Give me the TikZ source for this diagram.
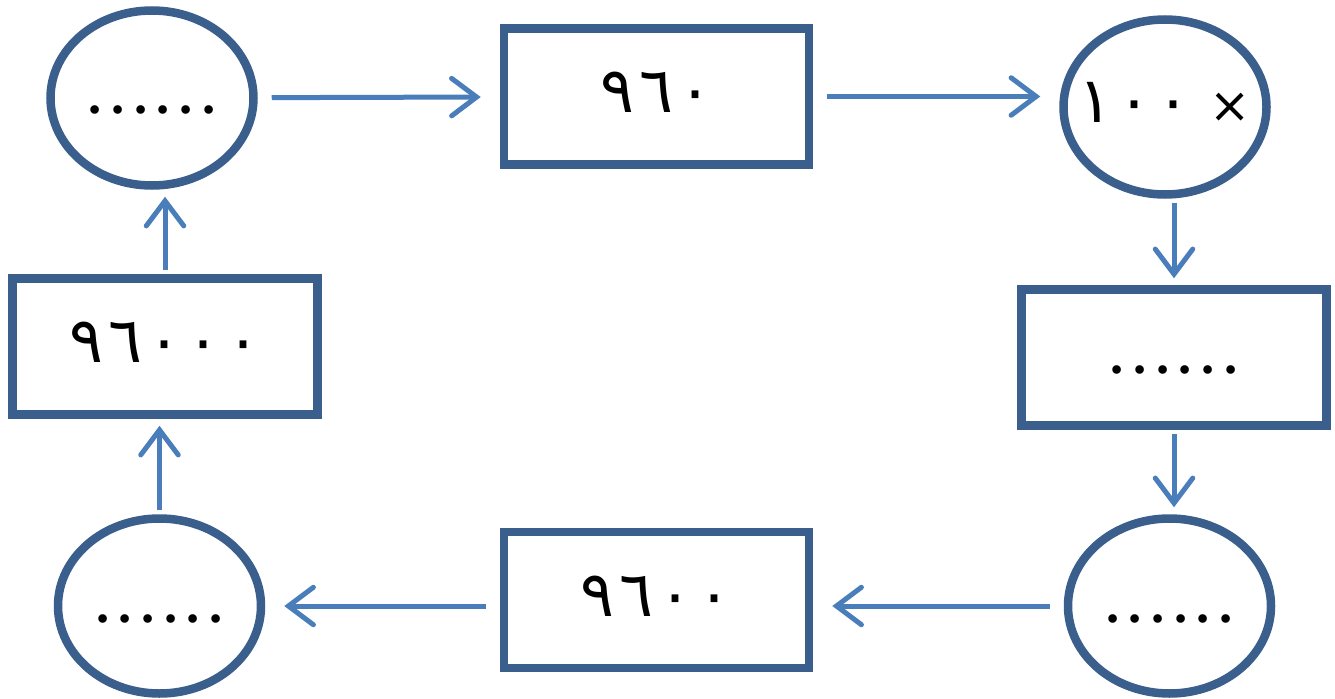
\documentclass[tikz,border=0pt]{standalone}
\usepackage{fontspec}
\TeXXeTstate=1
\newfontfamily\numfont[Script=Arabic,LetterSpace=8]{DejaVu Sans}
\newfontfamily\dotfont[LetterSpace=18]{Liberation Serif}
\usetikzlibrary{arrows.meta,shapes.geometric}
\definecolor{boxblue}{HTML}{3B5F8C}
\definecolor{arrowblue}{HTML}{4A7EBB}

\begin{document}
\begin{tikzpicture}[
    oval/.style={ellipse, draw=boxblue, line width=0.17cm, minimum width=4.06cm, minimum height=3.5cm, inner sep=0pt, inner xsep=-0.6cm},
    card/.style={rectangle, draw=boxblue, line width=0.17cm, minimum width=6.1cm, minimum height=2.72cm, inner sep=0pt},
    flow/.style={draw=arrowblue, line width=0.1cm, -{Straight Barb[length=0.5cm, width=0.75cm, line cap=round]}, shorten <=0.08cm, shorten >=0.14cm},
    wide/.style={shorten <=0.28cm, shorten >=0.38cm},
    every node/.style={text height=0.64cm, text depth=0pt}
  ]
  \useasboundingbox (0,0) rectangle (26.7,13.96);
  \draw
    (3.04,12.0) node[oval] (0){\dotfont\fontsize{30}{34}\selectfont\bfseries ......}
    (13.13,12.03) node[card] (1){\numfont\fontsize{36}{42}\selectfont ٩٦٠}
    (23.3,11.82) node[oval] (2){\numfont\fontsize{36}{42}\selectfont\beginR {\fontsize{28}{32}\selectfont ×}\hspace{0.3em}\beginL ١٠٠\endL\endR}
    (23.48,6.81) node[card] (3){\dotfont\fontsize{30}{34}\selectfont\bfseries ......}
    (23.39,1.84) node[oval] (4){\dotfont\fontsize{30}{34}\selectfont\bfseries ......}
    (13.13,1.96) node[card] (5){\numfont\fontsize{36}{42}\selectfont ٩٦٠٠}
    (3.19,1.84) node[oval] (6){\dotfont\fontsize{30}{34}\selectfont\bfseries ......}
    (3.3,7.03) node[card] (7){\numfont\fontsize{36}{42}\selectfont ٩٦٠٠٠};
  \begin{scope}[flow]
    \draw[wide] (0) to (1);
    \draw[wide] (1.east) to (1.east -| 2.west);
    \draw (3.north |- 2.south) to (3.north);
    \draw (3.south) to (3.south |- 4.north);
    \draw[wide] (4.west) to (4.west -| 5.east);
    \draw[wide] (6.east -| 5.west) to (6.east);
    \draw (6.north) to (6.north |- 7.south);
    \draw (7.north) to (7.north |- 0.south);
  \end{scope}
\end{tikzpicture}
\end{document}
